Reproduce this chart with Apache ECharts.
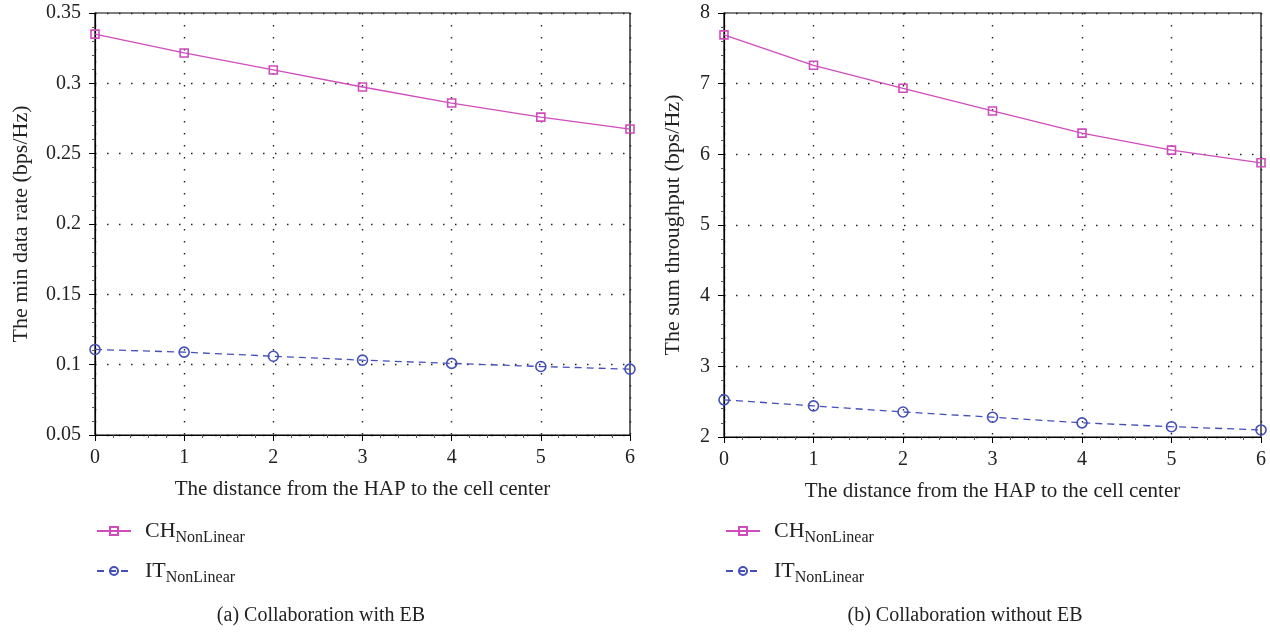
<!DOCTYPE html>
<html><head><meta charset="utf-8">
<script src="https://cdn.jsdelivr.net/npm/echarts@6/dist/echarts.min.js"></script>
<style>html,body{margin:0;padding:0;background:#fff}#c{width:1270px;height:635px}</style>
</head><body><div id="c"></div>
<script>
const distances = [0, 1, 2, 3, 4, 5, 6];
const chWithEB = [0.335, 0.3216, 0.3095, 0.2974, 0.286, 0.276, 0.2675];
const itWithEB = [0.1108, 0.1089, 0.106, 0.1032, 0.1009, 0.0987, 0.0968];
const chWithoutEB = [7.69, 7.26, 6.935, 6.614, 6.30, 6.06, 5.88];
const itWithoutEB = [2.526, 2.44, 2.354, 2.28, 2.20, 2.146, 2.10];
const xTitle = 'The distance from the HAP to the cell center';
const yTitleA = 'The min data rate (bps/Hz)';
const yTitleB = 'The sum throughput (bps/Hz)';
const captionA = '(a) Collaboration with EB';
const captionB = '(b) Collaboration without EB';

const FONT = 'Liberation Serif';
const CH_COLOR = '#d04cbc';
const IT_COLOR = '#4450b8';

const chart = echarts.init(document.getElementById('c'));
const pair = (xs, ys) => xs.map((x, i) => [x, ys[i]]);

function xAx(gi) {
  return {
    type: 'value', gridIndex: gi, min: 0, max: 6, interval: 1,
    name: xTitle, nameLocation: 'middle', nameGap: 44,
    nameTextStyle: {fontFamily: FONT, fontSize: 21, color: '#222'},
    axisLine: {lineStyle: {color: '#000', width: 1.2}},
    axisTick: {show: true, length: 6, lineStyle: {color: '#000'}},
    minorTick: {show: true, splitNumber: 5, length: 3, lineStyle: {color: '#555'}},
    axisLabel: {fontFamily: FONT, fontSize: 20, color: '#222', margin: 13},
    splitLine: {show: true, lineStyle: {color: '#222', type: [1.5, 10.5], width: 1.4}}
  };
}
function yAx(gi, min, max, interval, name, gap) {
  return {
    type: 'value', gridIndex: gi, min: min, max: max, interval: interval,
    name: name, nameLocation: 'middle', nameGap: gap,
    nameTextStyle: {fontFamily: FONT, fontSize: 22, color: '#222'},
    axisLine: {show: true, lineStyle: {color: '#000', width: 1.2}},
    axisTick: {show: true, length: 6, lineStyle: {color: '#000'}},
    minorTick: {show: true, splitNumber: 5, length: 3, lineStyle: {color: '#555'}},
    axisLabel: {fontFamily: FONT, fontSize: 20, color: '#222', margin: 14},
    splitLine: {show: true, lineStyle: {color: '#222', type: [1.5, 10.5], width: 1.4}}
  };
}
const legendRich = {
  m: {fontFamily: FONT, fontSize: 22, lineHeight: 30, color: '#222', padding: [0, 0, 0, 9]},
  s: {fontFamily: FONT, fontSize: 16, lineHeight: 16, color: '#222', verticalAlign: 'bottom'}
};
const legendFmt = n => n === 'CH' ? '{m|CH}{s|NonLinear}' : '{m|IT}{s|NonLinear}';

function ser(name, gi, data, color, symbol, size, dashed) {
  return {
    name: name, type: 'line', xAxisIndex: gi, yAxisIndex: gi, data: data,
    symbol: symbol, symbolSize: size, showSymbol: true,
    lineStyle: {color: color, width: 1.3, type: dashed ? [7, 5] : 'solid'},
    itemStyle: {color: 'rgba(255,255,255,0)', borderColor: color, borderWidth: 1.6},
    emphasis: {disabled: true}, animation: false
  };
}

chart.setOption({
  animation: false,
  textStyle: {fontFamily: FONT},
  grid: [
    {left: 95, right: 640, top: 13, bottom: 200, show: true, borderColor: '#000', borderWidth: 1.2},
    {left: 724, right: 9, top: 13, bottom: 198, show: true, borderColor: '#000', borderWidth: 1.2}
  ],
  xAxis: [xAx(0), xAx(1)],
  yAxis: [yAx(0, 0.05, 0.35, 0.05, yTitleA, 63), yAx(1, 2, 8, 1, yTitleB, 40)],
  legend: [
    {left: 96, top: 520, orient: 'vertical', itemGap: 14, itemWidth: 34, itemHeight: 10, padding: 0,
     data: ['CH', 'IT'], formatter: legendFmt, textStyle: {rich: legendRich}, selectedMode: false},
    {left: 725, top: 520, orient: 'vertical', itemGap: 14, itemWidth: 34, itemHeight: 10, padding: 0,
     data: ['CH', 'IT'], formatter: legendFmt, textStyle: {rich: legendRich}, selectedMode: false}
  ],
  title: [
    {text: captionA, left: 321, top: 606, textAlign: 'center', padding: 0,
     textStyle: {fontFamily: FONT, fontSize: 20, fontWeight: 'normal', color: '#222'}},
    {text: captionB, left: 965, top: 606, textAlign: 'center', padding: 0,
     textStyle: {fontFamily: FONT, fontSize: 20, fontWeight: 'normal', color: '#222'}}
  ],
  series: [
    ser('CH', 0, pair(distances, chWithEB), CH_COLOR, 'rect', 8, false),
    ser('IT', 0, pair(distances, itWithEB), IT_COLOR, 'circle', 10, true),
    ser('CH', 1, pair(distances, chWithoutEB), CH_COLOR, 'rect', 8, false),
    ser('IT', 1, pair(distances, itWithoutEB), IT_COLOR, 'circle', 10, true)
  ]
});
</script></body></html>
